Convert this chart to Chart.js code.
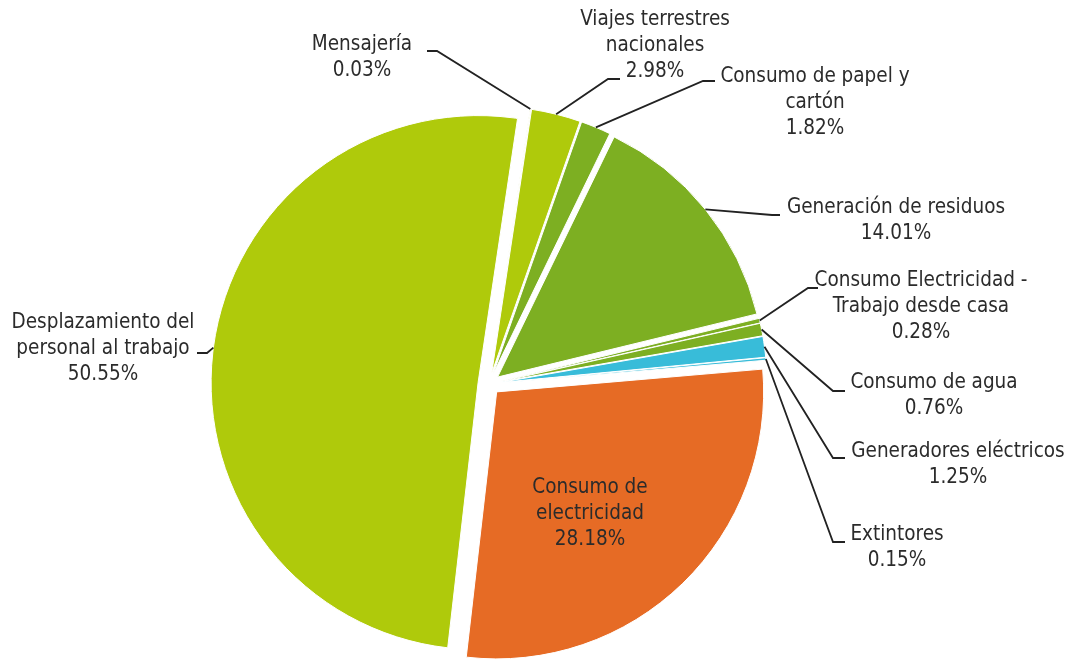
<!DOCTYPE html>
<html>
<head>
<meta charset="utf-8">
<script src="https://cdn.jsdelivr.net/npm/chart.js@4"></script>
<style>
  html, body { margin: 0; padding: 0; background: #fff; }
  #wrap { width: 1070px; height: 659px; }
</style>
</head>
<body>
<div id="wrap"><canvas id="myChart" width="1070" height="659"></canvas></div>
<script>
const categorias = [
  "Mensajería",
  "Viajes terrestres nacionales",
  "Consumo de papel y cartón",
  "Generación de residuos",
  "Consumo Electricidad - Trabajo desde casa",
  "Consumo de agua",
  "Generadores eléctricos",
  "Extintores",
  "Consumo de electricidad",
  "Desplazamiento del personal al trabajo"
];
const porcentajes = [0.03, 2.98, 1.82, 14.01, 0.28, 0.76, 1.25, 0.15, 28.18, 50.55];
const etiquetas = [
  ["Mensajería"],
  ["Viajes terrestres", "nacionales"],
  ["Consumo de papel y", "cartón"],
  ["Generación de residuos"],
  ["Consumo Electricidad -", "Trabajo desde casa"],
  ["Consumo de agua"],
  ["Generadores eléctricos"],
  ["Extintores"],
  ["Consumo de", "electricidad"],
  ["Desplazamiento del", "personal al trabajo"]
];

const colores = ["#afca0b", "#afca0b", "#7daf22", "#7daf22", "#7daf22", "#7daf22",
                 "#38bcd9", "#38bcd9", "#e66b25", "#afca0b"];

// where each label sits: text centre x, first line y, elbow of the leader, end of short tail
const posEtiquetas = [
  { x: 362, y: 45, elbow: [437, 51], tail: 427 },
  { x: 655, y: 20, elbow: [608, 79], tail: 620 },
  { x: 815, y: 77, elbow: [703, 81], tail: 715 },
  { x: 896, y: 208, elbow: [772, 215], tail: 780 },
  { x: 921, y: 281, elbow: [808, 288], tail: 818 },
  { x: 934, y: 383, elbow: [833, 391], tail: 845 },
  { x: 958, y: 452, elbow: [833, 458], tail: 845 },
  { x: 897, y: 535, elbow: [833, 542], tail: 845 },
  { x: 590, y: 488, elbow: null },
  { x: 103, y: 323, elbow: [207, 353], tail: 197 }
];

const EXPLODE = 11;
const FONT = "20.5px 'DejaVu Sans Condensed', 'DejaVu Sans', sans-serif";

// Excel-style explosion: every slice pushed out from the centre
const explotar = {
  id: "explotar",
  beforeDatasetsDraw(chart) {
    const meta = chart.getDatasetMeta(0);
    const ctrl = meta.controller;
    const ca = chart.chartArea;
    const cx = (ca.left + ca.right) / 2 + ctrl.offsetX;
    const cy = (ca.top + ca.bottom) / 2 + ctrl.offsetY;
    meta.data.forEach((arc) => {
      const mid = (arc.startAngle + arc.endAngle) / 2;
      arc.x = cx + Math.cos(mid) * EXPLODE;
      arc.y = cy + Math.sin(mid) * EXPLODE;
    });
  }
};

const rotulos = {
  id: "rotulos",
  afterDatasetsDraw(chart) {
    const ctx = chart.ctx;
    const meta = chart.getDatasetMeta(0);
    ctx.save();
    meta.data.forEach((arc, i) => {
      const p = posEtiquetas[i];
      const mid = (arc.startAngle + arc.endAngle) / 2;
      if (p.elbow) {
        const ax = arc.x + Math.cos(mid) * arc.outerRadius;
        const ay = arc.y + Math.sin(mid) * arc.outerRadius;
        ctx.strokeStyle = "#222";
        ctx.lineWidth = 1.8;
        ctx.beginPath();
        ctx.moveTo(ax, ay);
        ctx.lineTo(p.elbow[0], p.elbow[1]);
        ctx.lineTo(p.tail, p.elbow[1]);
        ctx.stroke();
      }
      const lineas = etiquetas[i].concat([porcentajes[i].toFixed(2) + "%"]);
      ctx.fillStyle = "#2b2b2b";
      ctx.font = FONT;
      ctx.textAlign = "center";
      ctx.textBaseline = "middle";
      lineas.forEach((t, k) => ctx.fillText(t, p.x, p.y + k * 26));
    });
    ctx.restore();
  }
};

new Chart(document.getElementById("myChart"), {
  type: "pie",
  data: {
    labels: categorias,
    datasets: [{
      data: porcentajes,
      backgroundColor: colores,
      borderColor: "#ffffff",
      borderWidth: 1,
      clip: false
    }]
  },
  options: {
    responsive: false,
    animation: false,
    rotation: 8.5,
    radius: 267,
    layout: { padding: { left: 0, right: 92, top: 109, bottom: 0 } },
    plugins: {
      legend: { display: false },
      tooltip: { enabled: false }
    }
  },
  plugins: [explotar, rotulos]
});
</script>
</body>
</html>
